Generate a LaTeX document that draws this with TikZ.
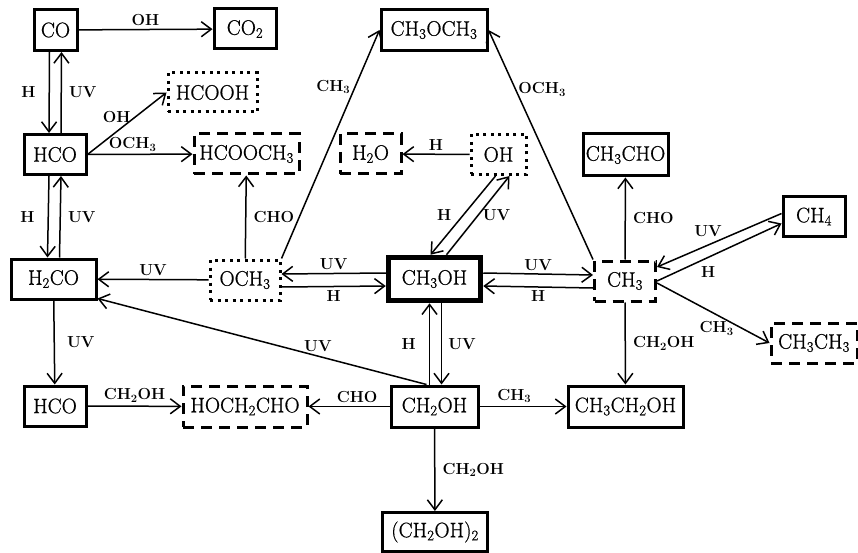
\documentclass[tikz,border=0pt]{standalone}
\usepackage{fontspec}
\newfontfamily\nodefont{Latin Modern Roman}[FakeBold=0.7]
\usetikzlibrary{arrows.meta}
\newcommand\sbs[1]{\textsubscript{#1}}
\begin{document}
\begin{tikzpicture}[x=1pt,y=-1pt,
  box/.style={draw, line width=3pt, inner sep=0pt, font=\nodefont\fontsize{21}{23}\selectfont, minimum height=40pt},
  dashbox/.style={box, dash pattern=on 11pt off 7pt},
  dotbox/.style={box, dash pattern=on 3pt off 4.5pt},
  arr/.style={-{Straight Barb[length=10pt,width=15pt,line width=1.5pt]}, line width=1.5pt},
  lab/.style={font=\bfseries\fontsize{16}{18}\selectfont, inner sep=1pt}]
\useasboundingbox (0,0) rectangle (858,553);
% nodes
\node[box, minimum width=43pt, minimum height=41pt] (CO) at (55.5,30) {CO};
\node[box, minimum width=62pt] (CO2) at (245,29) {CO\sbs{2}};
\node[dotbox, minimum width=89pt, minimum height=39pt] (HCOOH) at (212.5,92.5) {HCOOH};
\node[box, minimum width=62pt] (HCO) at (55,154.5) {HCO};
\node[dashbox, minimum width=105pt] (HCOOCH3) at (246.5,154) {HCOOCH\sbs{3}};
\node[box, minimum width=85pt] (H2CO) at (53.5,279) {H\sbs{2}CO};
\node[dotbox, minimum width=70pt] (OCH3) at (245,280) {OCH\sbs{3}};
\node[box, line width=4.5pt, minimum width=93pt, minimum height=44pt] (CH3OH) at (434.5,279) {CH\sbs{3}OH};
\draw[line width=1.3pt] ([xshift=5pt,yshift=-5pt]CH3OH.north west) rectangle ([xshift=-5pt,yshift=5pt]CH3OH.south east);
\node[dashbox, minimum width=61pt] (CH3) at (625,281) {CH\sbs{3}};
\node[box, minimum width=106pt, minimum height=41pt] (CH3OCH3) at (434,30) {CH\sbs{3}OCH\sbs{3}};
\node[dashbox, minimum width=61pt] (H2O) at (370.5,154) {H\sbs{2}O};
\node[dotbox, minimum width=55pt] (OH) at (498.5,154.5) {OH};
\node[box, minimum width=85pt, minimum height=42pt] (CH3CHO) at (625.5,155) {CH\sbs{3}CHO};
\node[box, minimum width=62pt, minimum height=39pt] (CH4) at (814,216.5) {CH\sbs{4}};
\node[dashbox, minimum width=86pt] (CH3CH3) at (814,343) {CH\sbs{3}CH\sbs{3}};
\node[box, minimum width=62pt] (HCOb) at (55,406) {HCO};
\node[dashbox, minimum width=124pt, minimum height=41pt] (HOCH2CHO) at (245,406.5) {HOCH\sbs{2}CHO};
\node[box, minimum width=87pt, minimum height=41pt] (CH2OH) at (434.5,406.5) {CH\sbs{2}OH};
\node[box, minimum width=115pt, minimum height=41pt] (CH3CH2OH) at (625.5,406.5) {CH\sbs{3}CH\sbs{2}OH};
\node[box, minimum width=105pt, minimum height=39pt] (CH2OH2) at (435,532) {(CH\sbs{2}OH)\sbs{2}};
% connectors
\draw[arr] (CO) -- node[lab, above=2pt] {OH} (CO2);
\draw[arr] ([xshift=-6pt]CO.south) -- node[lab, left=12pt] {H} ([xshift=-6pt]HCO.north);
\draw[arr] ([xshift=6pt]HCO.north) -- node[lab, right=6pt] {UV} ([xshift=6pt]CO.south);
\draw[arr] (HCO.east) -- node[lab, pos=0.37, above=7pt] {OH} (HCOOH.west);
\draw[arr] (HCO) -- node[lab, pos=0.43, above=1pt] {OCH\sbs{3}} (HCOOCH3);
\draw[arr] ([xshift=-6pt]HCO.south) -- node[lab, left=12pt] {H} ([xshift=-6pt]H2CO.north);
\draw[arr] ([xshift=6pt]H2CO.north) -- node[lab, right=6pt] {UV} ([xshift=6pt]HCO.south);
\draw[arr] (OCH3) -- node[lab, right=6pt] {CHO} (HCOOCH3);
\draw[arr] (OCH3.north east) -- node[lab, pos=0.75, left=3pt] {CH\sbs{3}} (CH3OCH3.west);
\draw[arr] (OCH3) -- node[lab, above=2pt] {UV} (H2CO);
\draw[arr] ([yshift=6pt]CH3OH.west) -- node[lab, above=2pt] {UV} ([yshift=6pt]OCH3.east);
\draw[arr] ([yshift=-7pt]OCH3.east) -- node[lab, below=2pt] {H} ([yshift=-7pt]CH3OH.west);
\draw[arr] ([yshift=6pt]CH3OH.east) -- node[lab, above=2pt] {UV} ([yshift=6pt]CH3.west);
\draw[arr] ([yshift=-7pt]CH3.west) -- node[lab, below=2pt] {H} ([yshift=-7pt]CH3OH.east);
\draw[arr] ([xshift=-3pt]OH.south) -- node[lab, left=10pt] {H} ([xshift=-4pt]CH3OH.north);
\draw[arr] ([xshift=12pt]CH3OH.north) -- node[lab, right=3pt] {UV} ([xshift=11pt]OH.south);
\draw[arr] (OH) -- node[lab, above=2pt] {H} (H2O);
\draw[arr] (CH3.north west) -- node[lab, pos=0.74, right=1pt] {OCH\sbs{3}} (CH3OCH3.east);
\draw[arr] (CH3) -- node[lab, right=6pt] {CHO} (CH3CHO);
\draw[arr] ([yshift=3pt]CH4.west) -- node[lab, pos=0.59, above=7pt] {UV} ([yshift=14pt]CH3.east);
\draw[arr] (CH3.east) -- node[lab, pos=0.41, below=7pt] {H} ([yshift=-7pt]CH4.west);
\draw[arr] ([yshift=-2pt]CH3.east) -- node[lab, pos=0.53, below=5pt] {CH\sbs{3}} (CH3CH3.west);
\draw[arr] (CH3) -- node[lab, right=6pt] {CH\sbs{2}OH} (CH3CH2OH);
\draw[arr] ([xshift=-5pt]CH2OH.north) -- node[lab, left=12pt] {H} ([xshift=-5pt]CH3OH.south);
\draw[arr] ([xshift=7pt]CH3OH.south) -- node[lab, right=5pt] {UV} ([xshift=7pt]CH2OH.north);
\draw[arr] ([xshift=-8pt]CH2OH.north) -- node[lab, pos=0.33, above=3pt] {UV} ([yshift=2pt]H2CO.south east);
\draw[arr] (H2CO) -- node[lab, right=11pt] {UV} (HCOb);
\draw[arr] (HCOb) -- node[lab, above=2pt] {CH\sbs{2}OH} (HOCH2CHO);
\draw[arr] (CH2OH) -- node[lab, pos=0.4, above=2pt] {CHO} (HOCH2CHO);
\draw[arr] (CH2OH) -- node[lab, pos=0.4, above=2pt] {CH\sbs{3}} (CH3CH2OH);
\draw[arr] (CH2OH) -- node[lab, right=6pt] {CH\sbs{2}OH} (CH2OH2);
\end{tikzpicture}
\end{document}
